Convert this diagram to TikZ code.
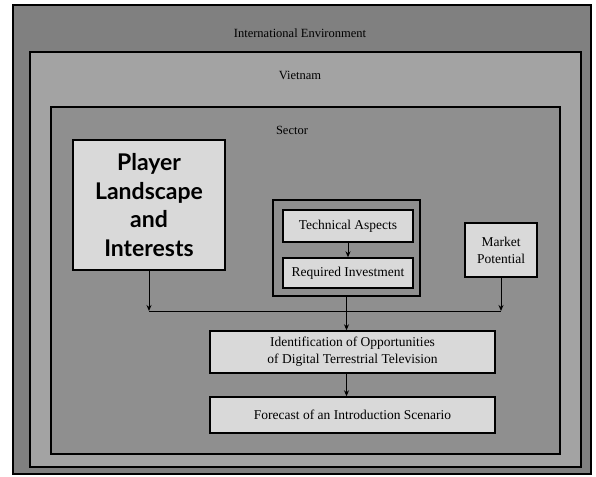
\documentclass[tikz,border=0pt]{standalone}
\usepackage{fontspec}
\setmainfont{Liberation Serif}
\newfontfamily\playerfont{Lato}
\usetikzlibrary{arrows.meta}

\tikzset{
  frame/.style={draw,line width=1.6pt},
  label text/.style={font=\fontsize{12.5}{15}\selectfont},
  box/.style={draw,line width=1.4pt,fill=black!15,align=center,inner sep=0pt,
    font=\fontsize{13.5}{17}\selectfont},
  link/.style={line width=1pt,-{Stealth[length=6pt,width=5pt]}},
}

\begin{document}
\begin{tikzpicture}[x=1pt,y=-1pt]
\useasboundingbox (0,0) rectangle (596,476);
% nested environments
\draw[frame,fill=black!50] (13,5) rectangle (591,474);
\node[label text] (intl) at (300,33) {International Environment};
\draw[frame,fill=black!36] (30,52) rectangle (581,467);
\node[label text] (vietnam) at (300,75) {Vietnam};
\draw[frame,fill=black!44] (51,107) rectangle (560,454);
\node[label text] (sector) at (292,130) {Sector};
% boxes
\node[box,minimum width=152pt,minimum height=130pt,
  font=\playerfont\bfseries\fontsize{23}{28.5}\selectfont] (player) at (149,205)
  {Player\\Landscape\\and\\Interests};
\node[box,line width=2pt,fill=black!44,minimum width=147pt,minimum height=96pt] (techgroup) at (346.5,248) {};
\node[box,minimum width=130pt,minimum height=32pt] (tech) at (348,226) {Technical Aspects};
\node[box,minimum width=130pt,minimum height=30pt] (invest) at (348,273) {Required Investment};
\node[box,minimum width=72pt,minimum height=54pt] (market) at (501,250) {Market\\Potential};
\node[box,minimum width=285pt,minimum height=42pt] (ident) at (352.5,352)
  {Identification of Opportunities\\of Digital Terrestrial Television};
\node[box,minimum width=285pt,minimum height=36pt] (forecast) at (352.5,415)
  {Forecast of an Introduction Scenario};
% connectors
\coordinate (join) at (0,311);
\draw[link] (tech) -- (invest);
\draw[link] (player.south) -- (player.south |- join);
\draw[line width=1pt] (player.south |- join) -- (market.south |- join);
\draw[link] (market.south) -- (market.south |- join);
\draw[link] (techgroup.south) -- (techgroup.south |- ident.north);
\draw[link] (ident.south -| techgroup.south) -- (forecast.north -| techgroup.south);
\end{tikzpicture}
\end{document}
